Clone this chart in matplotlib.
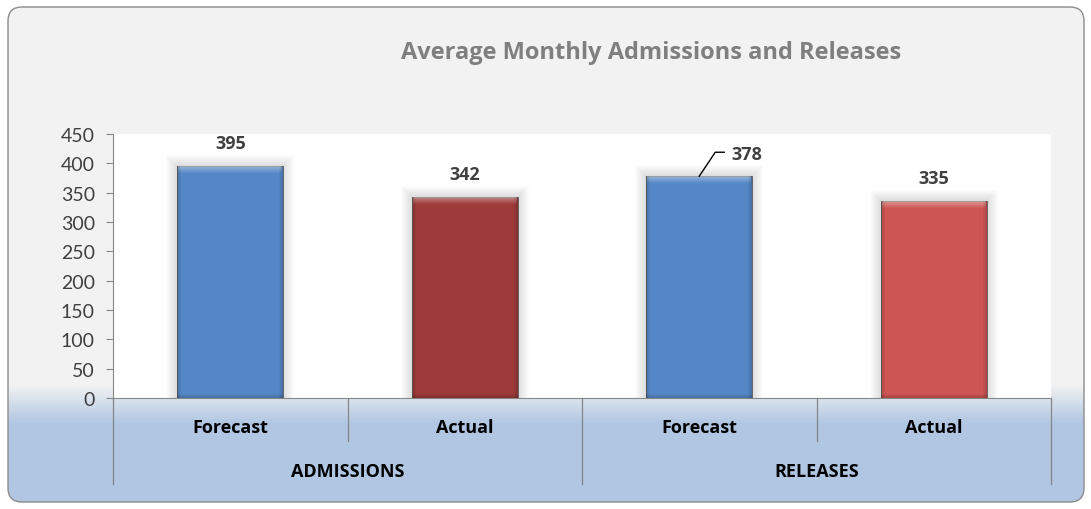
import numpy as np
import matplotlib
matplotlib.use("Agg")
import matplotlib.pyplot as plt
from matplotlib.patches import FancyBboxPatch, Rectangle
import matplotlib.transforms as mtransforms

# данные
groups = ["ADMISSIONS", "RELEASES"]
kinds = ["Forecast", "Actual", "Forecast", "Actual"]
values = [395, 342, 378, 335]
bar_colors = ["#5587c6", "#9c3b39", "#5587c6", "#cd5553"]
title = "Average Monthly Admissions and Releases"

plt.rcParams['font.family'] = ['Lato', 'DejaVu Sans']
bold_font = ['Open Sans', 'DejaVu Sans']

fig = plt.figure(figsize=(10.91, 5.10), dpi=100)
fig.patch.set_facecolor("white")

# фон з градієнтом і заокругленою рамкою
bg = fig.add_axes([0, 0, 1, 1], zorder=0)
bg.set_xlim(0, 1091)
bg.set_ylim(510, 0)
bg.axis("off")
ys = np.arange(510)
t = np.clip((ys - 386) / 38.0, 0, 1)
c_top = np.array([242, 242, 242]) / 255
c_bot = np.array([176, 198, 226]) / 255
grad = c_top[None, :] * (1 - t[:, None]) + c_bot[None, :] * t[:, None]
img = np.repeat(grad[:, None, :], 2, axis=1)
im = bg.imshow(img, extent=(0, 1091, 510, 0), aspect="auto", zorder=0)
box = FancyBboxPatch((8, 8), 1076, 495, boxstyle="round,pad=0,rounding_size=14",
                     facecolor="none", edgecolor="#8c8c8c", linewidth=1.0, zorder=2)
bg.add_patch(box)
im.set_clip_path(box)

fig.text(651 / 1091, 1 - 53 / 510, title, ha="center", va="center",
         fontsize=17, fontweight="bold", color="#7f7f7f", family=bold_font)

ax = fig.add_axes([113 / 1091, 1 - 399 / 510, 938 / 1091, 264 / 510], zorder=1)
ax.set_facecolor("white")
ax.set_xlim(-0.5, 3.5)
ax.set_ylim(0, 450)
ax.set_yticks(range(0, 451, 50))
ax.tick_params(axis="y", length=5, color="#868686", labelsize=14,
               labelcolor="#404040", pad=8)
ax.set_xticks([])
for s in ["top", "right"]:
    ax.spines[s].set_visible(False)
for s in ["left", "bottom"]:
    ax.spines[s].set_color("#868686")

x = np.arange(len(values))
w = 0.45
px_x = 1 / 234.5
px_y = 450 / 264

# м'яка тінь навколо стовпців
for i, v in enumerate(values):
    for d in range(1, 12):
        ax.add_patch(Rectangle((x[i] - w / 2 - d * px_x, 0), w + 2 * d * px_x,
                               v + d * px_y, facecolor="#808080", alpha=0.025,
                               linewidth=0, zorder=1))

ax.bar(x, values, width=w, color=bar_colors, edgecolor="#5a5a5a",
       linewidth=0.6, zorder=3)
# фаска: світлий верх, темніші боки
for k in range(7):
    ax.bar(x, [px_y] * len(values), bottom=np.array(values) - (k + 1) * px_y,
           width=w - 2 * px_x, color="white", alpha=0.36 * (1 - k / 7),
           linewidth=0, zorder=4)
for k in range(4):
    a = 0.16 * (1 - k / 4)
    ax.bar(x - w / 2 + (k + 0.5) * px_x, values, width=px_x, color="black",
           alpha=a, linewidth=0, zorder=4)
    ax.bar(x + w / 2 - (k + 0.5) * px_x, values, width=px_x, color="black",
           alpha=a, linewidth=0, zorder=4)
    ax.bar(x, [px_y] * len(values), bottom=k * px_y, width=w, color="black",
           alpha=a, linewidth=0, zorder=4)

for i, v in enumerate(values):
    if i == 2:
        pts = [(0, 0), (16, 24), (25, 24)]
        xs = [x[i] + p[0] * px_x for p in pts]
        yv = [v + p[1] * px_y for p in pts]
        ax.plot(xs, yv, color="black", linewidth=1.0, zorder=5, clip_on=False)
        ax.text(x[i] + 32 * px_x, v + 22 * px_y, str(v), ha="left", va="center",
                fontsize=13, fontweight="bold", color="#404040", family=bold_font)
    else:
        ax.text(x[i], v + 23 * px_y, str(v), ha="center", va="center",
                fontsize=13, fontweight="bold", color="#404040", family=bold_font)

# підписи категорій під віссю
tr = mtransforms.blended_transform_factory(ax.transData, ax.transAxes)
for i, k in enumerate(kinds):
    ax.text(x[i], -29 / 264, k, transform=tr, ha="center", va="center",
            fontsize=13, fontweight="bold", color="black", family=bold_font)
for j, g in enumerate(groups):
    ax.text(2 * j + 0.5, -73 / 264, g, transform=tr, ha="center", va="center",
            fontsize=13, fontweight="bold", color="black", family=bold_font)
for b in [-0.5, 0.5, 1.5, 2.5, 3.5]:
    low = -86 / 264 if b in (-0.5, 1.5, 3.5) else -43 / 264
    ax.plot([b, b], [0, low], transform=tr, color="#868686", linewidth=0.9,
            clip_on=False)

fig.savefig("out.png", dpi=100)
